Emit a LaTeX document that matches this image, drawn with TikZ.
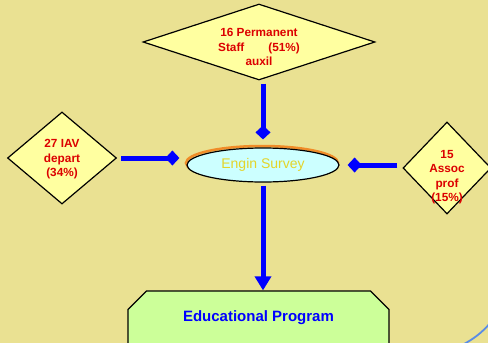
\documentclass[tikz,border=0pt]{standalone}
\usepackage{fontspec}
\setmainfont{Liberation Sans}
\usetikzlibrary{shapes.geometric,shapes.misc,arrows.meta}
\definecolor{bg}{RGB}{234,225,146}
\definecolor{dfill}{RGB}{255,255,160}
\definecolor{redtxt}{RGB}{220,0,0}
\definecolor{cyanfill}{RGB}{204,255,255}
\definecolor{greenfill}{RGB}{204,255,153}
\definecolor{conblue}{RGB}{0,0,255}
\definecolor{glow}{RGB}{240,140,40}
\definecolor{survtxt}{RGB}{228,212,40}
\definecolor{arcblue}{RGB}{90,140,230}
\newcommand{\dtext}[2]{\raisebox{#1}[0pt][0pt]{\makebox[0pt]{\begin{tabular}{@{}c@{}}#2\end{tabular}}}}
\begin{document}
\begin{tikzpicture}[x=1pt,y=-1pt,
  dia/.style={diamond, draw=black, line width=1.2pt, fill=dfill, inner sep=0pt,
    text=redtxt, font=\bfseries\fontsize{11.8}{14.5}\selectfont},
  conn/.style={draw=conblue, line width=5pt},
  dtip/.style={-{Diamond[length=14pt,width=15pt]}}
]
\useasboundingbox (0,0) rectangle (488,343);
\clip (0,0) rectangle (488,343);
\fill[bg] (0,0) rectangle (488,343);
\draw[arcblue, line width=1.8pt] (462,345) .. controls (472,340) and (482,333) .. (491,322);

\node[dia, minimum width=232pt, minimum height=76pt] (top) at (259,42)
  {\dtext{-9.5pt}{16 Permanent\\Staff\hspace{24pt}(51\%)\\auxil}};
\node[dia, minimum width=109pt, minimum height=92pt] (lft) at (62,158)
  {\dtext{-4.5pt}{27 IAV\\depart\\(34\%)}};
\node[dia, minimum width=88pt, minimum height=92pt] (rgt) at (447,168)
  {\dtext{-12pt}{15\\Assoc\\prof\\(15\%)}};

\draw[glow, line width=2.5pt] (262,163) ellipse [x radius=76pt, y radius=17pt];
\node[ellipse, draw=black, line width=1.2pt, fill=cyanfill, minimum width=152pt,
  minimum height=34pt, inner sep=0pt, text=survtxt, font=\fontsize{14}{16}\selectfont]
  (ell) at (263,165) {Engin Survey};

\node[chamfered rectangle, chamfered rectangle xsep=15pt, draw=black, line width=1.2pt,
  fill=greenfill, minimum width=261pt, inner xsep=0pt, inner ysep=0pt,
  text height=27pt, text depth=60pt, text=conblue,
  font=\bfseries\fontsize{15}{18}\selectfont, anchor=base]
  (oct) at (258.5,321.5) {Educational Program};

\draw[conn, dtip, shorten <=3pt, shorten >=8pt] (top.south -| ell.north) -- (ell.north);
\draw[conn, dtip, shorten <=4pt, shorten >=7pt] (lft.east) -- (lft.east -| ell.west);
\draw[conn, dtip, shorten <=5pt, shorten >=8pt] (ell.east -| rgt.west) -- (ell.east);
\draw[conn, shorten <=3pt, -{Triangle[length=14pt,width=16pt]}] (ell.south) -- (ell.south |- oct.north);
\end{tikzpicture}
\end{document}
